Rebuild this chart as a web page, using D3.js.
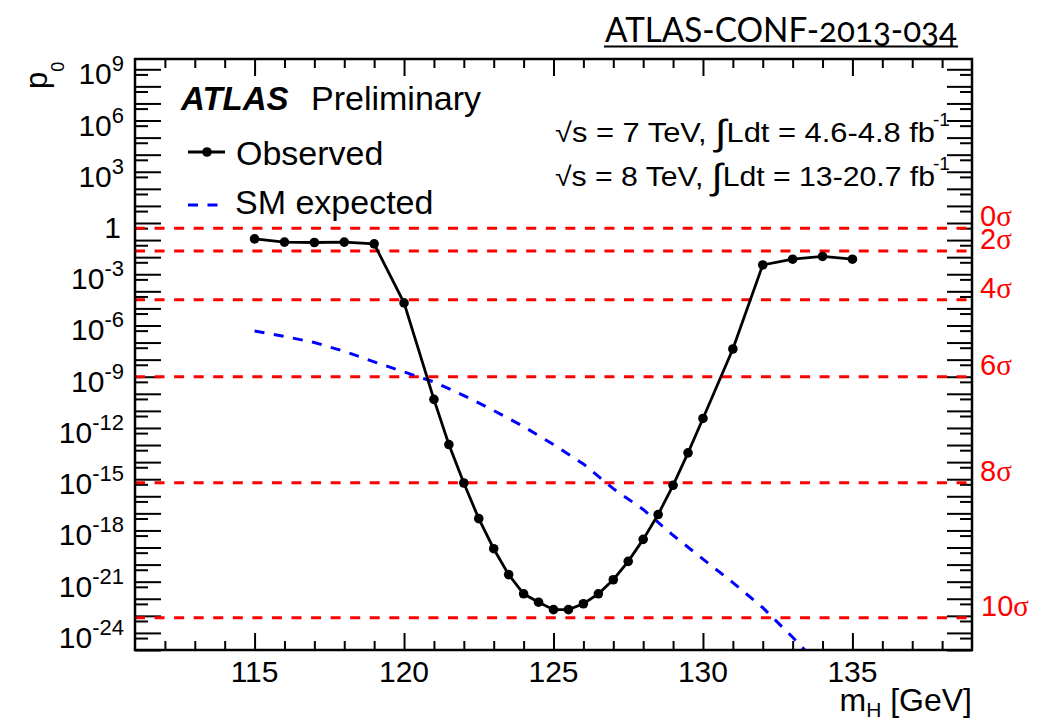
<!DOCTYPE html>
<html>
<head>
<meta charset="utf-8">
<script src="https://cdn.jsdelivr.net/npm/d3@7"></script>
<style>
  html, body { margin: 0; padding: 0; background: #fff; }
  svg { display: block; font-family: "Liberation Sans", Arial, Helvetica, sans-serif; }
</style>
</head>
<body>
<svg id="chart" width="1058" height="718"></svg>
<script>
// Observed local p0 versus Higgs mass hypothesis
const massObserved = [115, 116, 117, 118, 119, 120, 121, 121.5, 122, 122.5, 123, 123.5, 124, 124.5,
                      125, 125.5, 126, 126.5, 127, 127.5, 128, 128.5, 129, 129.5, 130, 131, 132, 133, 134, 135];
const p0Observed = [1.17e-1, 7.6e-2, 7.2e-2, 7.6e-2, 6.0e-2, 2.1e-5, 4.7e-11, 1.07e-13, 6.0e-16, 4.9e-18,
                    8.5e-20, 2.6e-21, 1.95e-22, 6.3e-23, 2.3e-23, 2.3e-23, 5.1e-23, 1.95e-22, 1.3e-21, 1.55e-20,
                    3.0e-19, 8.5e-18, 4.4e-16, 3.5e-14, 3.6e-12, 4.2e-8, 3.5e-3, 7.6e-3, 1.1e-2, 7.6e-3];

// Expected p0 for a Standard Model Higgs boson
const massExpected = [115, 116, 117, 118, 119, 120, 121, 122, 123, 124, 125, 126, 127, 128, 129, 130, 131, 132, 133, 134];
const p0Expected = [4.8e-7, 2.3e-7, 1.0e-7, 3.1e-8, 7.4e-9, 1.9e-9, 5.0e-10, 7.9e-11, 1.05e-11, 1.2e-12,
                    1.07e-13, 7.8e-15, 2.8e-16, 1.7e-17, 5.2e-19, 2.1e-20, 8.9e-22, 3.0e-23, 5.6e-25, 7.9e-27];

// One-sided significance levels and their p0 values
const sigmaLevels = [0, 2, 4, 6, 8, 10];
const sigmaP0 = [0.5, 2.275e-2, 3.167e-5, 9.866e-10, 6.221e-16, 7.62e-24];

// Axis ticks and labels
const xMajorTicks = [115, 120, 125, 130, 135];
const yLabelExponents = [9, 6, 3, 0, -3, -6, -9, -12, -15, -18, -21, -24];
const yDecadeExponents = d3.range(-25, 10);
const xDomain = [111, 139];
const yDomain = [1e-25, 4e9];

const noteTitle = "ATLAS-CONF-2013-034";
const energyLines = [
  { main: "\u221As = 7 TeV, ", lumi: "Ldt = 4.6-4.8 fb", sup: "-1" },
  { main: "\u221As = 8 TeV, ", lumi: "Ldt = 13-20.7 fb", sup: "-1" }
];

const L = 135, R = 972, T = 59, B = 650;
const svg = d3.select("#chart");

const x = d3.scaleLinear().domain(xDomain).range([L, R]);
const y = d3.scaleLog().domain(yDomain).range([B, T]);

svg.append("defs").append("clipPath").attr("id", "plotClip")
  .append("rect").attr("x", L).attr("y", T).attr("width", R - L).attr("height", B - T);

// ---- tick marks (ROOT style: all inward, mirrored on four sides)
const decades = yDecadeExponents.map(e => Math.pow(10, e)).filter(v => v >= yDomain[0] && v <= yDomain[1]);
const halves = yDecadeExponents.map(e => 5 * Math.pow(10, e - 1)).filter(v => v >= yDomain[0] && v <= yDomain[1]);
const xMinor = d3.range(112, 139).filter(v => v % 5 !== 0);

function ticks(gen, pos, values, size) {
  svg.append("g")
    .attr("transform", pos)
    .call(gen.tickValues(values).tickSize(size).tickFormat(""))
    .call(g => g.select(".domain").remove())
    .call(g => g.selectAll(".tick line").attr("stroke", "#000").attr("stroke-width", 2));
}
ticks(d3.axisLeft(y), `translate(${L},0)`, decades, -26);
ticks(d3.axisLeft(y), `translate(${L},0)`, halves, -13);
ticks(d3.axisRight(y), `translate(${R},0)`, decades, -25);
ticks(d3.axisRight(y), `translate(${R},0)`, halves, -12);
ticks(d3.axisBottom(x), `translate(0,${B})`, xMajorTicks, -17);
ticks(d3.axisBottom(x), `translate(0,${B})`, xMinor, -9);
ticks(d3.axisTop(x), `translate(0,${T})`, xMajorTicks, -17);
ticks(d3.axisTop(x), `translate(0,${T})`, xMinor, -9);

// ---- significance reference lines
svg.append("g").selectAll("line").data(sigmaP0).join("line")
  .attr("x1", L).attr("x2", R)
  .attr("y1", d => y(d)).attr("y2", d => y(d))
  .attr("stroke", "#ff0000").attr("stroke-width", 3)
  .attr("stroke-dasharray", "10,9.56");

svg.append("g").selectAll("text").data(sigmaLevels).join("text")
  .attr("x", d => d >= 10 ? 981 : 980)
  .attr("y", (d, i) => y(sigmaP0[i]) - 2)
  .attr("fill", "#ff0000").attr("font-size", 29)
  .each(function (d) {
    const t = d3.select(this);
    t.append("tspan").text(d);
    t.append("tspan").attr("font-family", "'Liberation Serif', 'Times New Roman', serif").text("\u03C3");
  });

// ---- curves
const plot = svg.append("g").attr("clip-path", "url(#plotClip)");

const expLine = d3.line().x((d, i) => x(massExpected[i])).y(d => y(d));
plot.append("path").datum(p0Expected)
  .attr("d", expLine)
  .attr("fill", "none").attr("stroke", "#0000ff").attr("stroke-width", 3)
  .attr("stroke-dasharray", "10,9.5");

const obsLine = d3.line().x((d, i) => x(massObserved[i])).y(d => y(d));
plot.append("path").datum(p0Observed)
  .attr("d", obsLine)
  .attr("fill", "none").attr("stroke", "#000").attr("stroke-width", 2.8);

plot.append("g").selectAll("circle").data(p0Observed).join("circle")
  .attr("cx", (d, i) => x(massObserved[i])).attr("cy", d => y(d))
  .attr("r", 4.8).attr("fill", "#000");

// ---- frame
svg.append("rect").attr("x", L).attr("y", T).attr("width", R - L).attr("height", B - T)
  .attr("fill", "none").attr("stroke", "#000").attr("stroke-width", 2.5);

// ---- tick labels
svg.append("g").selectAll("text").data(xMajorTicks).join("text")
  .attr("x", d => x(d)).attr("y", 682)
  .attr("text-anchor", "middle").attr("font-size", 30)
  .text(d => d);

svg.append("g").selectAll("text").data(yLabelExponents).join("text")
  .attr("x", d => d === 0 ? 121 : 124)
  .attr("y", d => y(Math.pow(10, d)) + 15)
  .attr("text-anchor", "end").attr("font-size", 30)
  .each(function (d) {
    const t = d3.select(this);
    if (d === 0) { t.text("1"); return; }
    t.append("tspan").text("10");
    t.append("tspan").attr("font-size", 22).attr("dy", -13).text(d);
  });

// ---- axis titles
const xt = svg.append("text").attr("x", 972).attr("y", 711)
  .attr("text-anchor", "end").attr("font-size", 32);
xt.append("tspan").text("m");
xt.append("tspan").attr("font-size", 21).attr("dy", 6).text("H");
xt.append("tspan").attr("dy", -6).text(" [GeV]");

const yt = svg.append("text").attr("transform", "translate(47,89) rotate(-90)")
  .attr("font-size", 31);
yt.append("tspan").text("p");
yt.append("tspan").attr("font-size", 18).attr("dy", 17).text("0");

// ---- labels inside the frame
svg.append("text").attr("x", 181).attr("y", 110)
  .attr("font-size", 33).attr("font-weight", "bold").attr("font-style", "italic")
  .text("ATLAS");
svg.append("text").attr("x", 311).attr("y", 110)
  .attr("font-size", 34).text("Preliminary");

// legend
const legend = svg.append("g");
legend.append("line").attr("x1", 188).attr("x2", 225).attr("y1", 152).attr("y2", 152)
  .attr("stroke", "#000").attr("stroke-width", 2.8);
legend.append("circle").attr("cx", 207).attr("cy", 152).attr("r", 4.8).attr("fill", "#000");
legend.append("text").attr("x", 236).attr("y", 165).attr("font-size", 34).text("Observed");
legend.append("line").attr("x1", 188).attr("x2", 218).attr("y1", 205).attr("y2", 205)
  .attr("stroke", "#0000ff").attr("stroke-width", 3).attr("stroke-dasharray", "10,9.5");
legend.append("text").attr("x", 235).attr("y", 214).attr("font-size", 34).text("SM expected");

// centre-of-mass energy and luminosity
energyLines.forEach((ln, i) => {
  const base = 142 + i * 43.5;
  const t = svg.append("text").attr("x", 555).attr("y", base).attr("font-size", 27)
    .attr("textLength", 380).attr("lengthAdjust", "spacingAndGlyphs");
  t.append("tspan").text(ln.main);
  t.append("tspan").attr("font-size", 36).attr("dy", 3).text("\u222B");
  t.append("tspan").attr("dy", -3).text(ln.lumi);
  svg.append("text").attr("x", 933).attr("y", base - 16).attr("font-size", 19).text(ln.sup);
});

// ---- note reference, top right
svg.append("text").attr("x", 605).attr("y", 42)
  .attr("font-family", "Lato, 'Open Sans', sans-serif").attr("font-size", 34)
  .style("font-variant-numeric", "oldstyle-nums")
  .attr("textLength", 352).attr("lengthAdjust", "spacingAndGlyphs")
  .text(noteTitle);
svg.append("line").attr("x1", 604).attr("x2", 958).attr("y1", 46.5).attr("y2", 46.5)
  .attr("stroke", "#000").attr("stroke-width", 2);
</script>
</body>
</html>
